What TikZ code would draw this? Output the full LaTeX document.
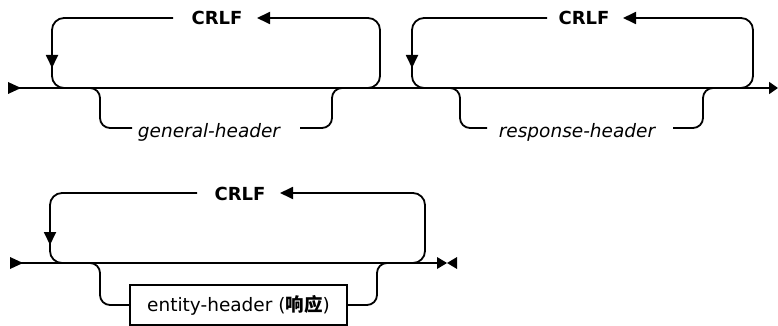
\documentclass[tikz,border=0pt]{standalone}
\usepackage{fontspec}
\setmainfont{DejaVu Sans}
\newfontfamily\cjk{Noto Sans CJK SC}
\usetikzlibrary{arrows.meta}
\begin{document}
\begin{tikzpicture}[x=1pt,y=-1pt, line width=1.8pt,
  loopr/.style={rounded corners=12pt},
  branchr/.style={rounded corners=10pt},
  tipl/.style={-{Triangle[length=13pt,width=12pt]}},
  endtip/.style={-{Triangle[length=9pt,width=12pt]}},
  kw/.style={font=\fontsize{18}{20}\selectfont\bfseries, inner sep=0pt, anchor=base},
  var/.style={font=\fontsize{18.5}{20}\selectfont\itshape, inner sep=0pt, anchor=base},
  boxed/.style={draw, line width=1.8pt, minimum width=217pt, minimum height=40pt, inner sep=0pt, font=\fontsize{18.5}{20}\selectfont}]
\useasboundingbox (0,0) rectangle (778,326);

% ---------- row 1 ----------
\coordinate (s1) at (8,88);
\coordinate (e1) at (778,88);
\fill (8,82) -- (8,94) -- (21,88) -- cycle;
\draw[endtip] (s1) -- (e1);

% loop 1
\node[kw] (crlf1) at (217,25) {CRLF};
\coordinate (l1a) at (173,18);
\coordinate (l1b) at (257,18);
\draw[loopr,tipl] (360,88) -- (380,88) -- (380,18) -- (l1b);
\draw[loopr] (l1a) -- (52,18) -- (52,88) -- (75,88);
\draw[tipl] (52,45) -- (52,68);

% branch 1
\node[var] (gh) at (209,137) {general-header};
\coordinate (g1a) at (132,128);
\coordinate (g1b) at (300,128);
\draw[branchr] (80,88) -- (100,88) -- (100,128) -- (g1a);
\draw[branchr] (g1b) -- (332,128) -- (332,88) -- (352,88);

% loop 2
\node[kw] (crlf2) at (584,25) {CRLF};
\coordinate (l2a) at (547,18);
\coordinate (l2b) at (623,18);
\draw[loopr,tipl] (730,88) -- (753,88) -- (753,18) -- (l2b);
\draw[loopr] (l2a) -- (412,18) -- (412,88) -- (435,88);
\draw[tipl] (412,45) -- (412,68);

% branch 2
\node[var] (rh) at (577,137) {response-header};
\coordinate (g2a) at (487,128);
\coordinate (g2b) at (673,128);
\draw[branchr] (440,88) -- (460,88) -- (460,128) -- (g2a);
\draw[branchr] (g2b) -- (703,128) -- (703,88) -- (723,88);

% ---------- row 2 ----------
\coordinate (s2) at (10,263);
\coordinate (e2) at (437,263);
\fill (10,257) -- (10,269) -- (23,263) -- cycle;
\draw (s2) -- (e2);
\fill (437,257) -- (437,269) -- (447,263) -- cycle;
\fill (457,257) -- (457,269) -- (447,263) -- cycle;

% loop 3
\node[kw] (crlf3) at (240,200) {CRLF};
\coordinate (l3a) at (197,193);
\coordinate (l3b) at (280,193);
\draw[loopr,tipl] (400,263) -- (425,263) -- (425,193) -- (l3b);
\draw[loopr] (l3a) -- (50,193) -- (50,263) -- (72,263);
\draw[tipl] (50,222) -- (50,245);

% branch 3
\node[boxed] (eh) at (238.5,305) {entity-header ({\cjk\bfseries 响应})};
\draw[branchr] (80,263) -- (100,263) -- (100,305) -- (eh.west);
\draw[branchr] (eh.east) -- (377,305) -- (377,263) -- (397,263);
\end{tikzpicture}
\end{document}
